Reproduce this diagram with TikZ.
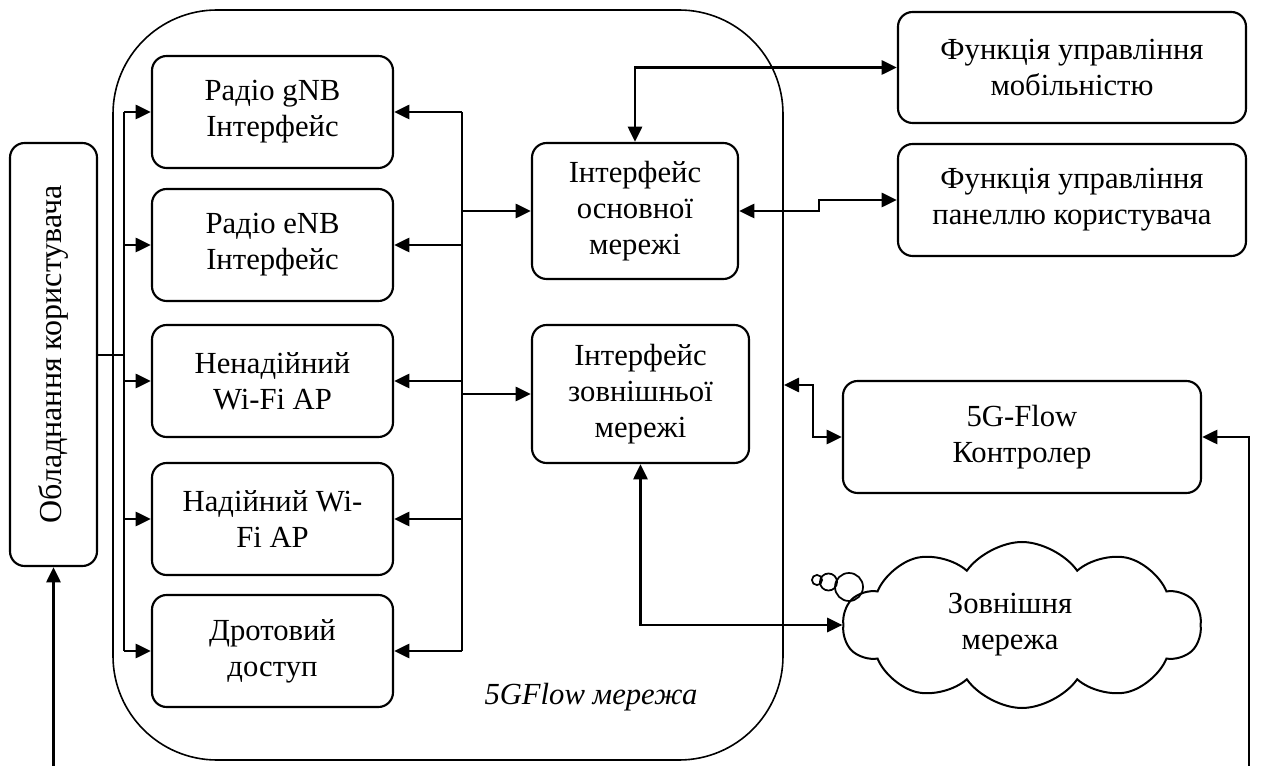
\documentclass[tikz,border=0pt]{standalone}
\usepackage{fontspec}
\setmainfont{Liberation Serif}
\usepackage{graphicx}
\usetikzlibrary{arrows.meta,shapes.symbols}
\begin{document}
\begin{tikzpicture}[x=0.75pt,y=-0.75pt,
  >={Triangle[length=11.5pt,width=10.5pt]},
  txt/.style={font=\fontsize{23}{27}\selectfont},
  box/.style={draw, line width=1.6pt, rounded corners=11pt, align=center, inner sep=2pt, txt},
  lbox/.style={box, minimum width=180.75pt, minimum height=84pt},
  conn/.style={line width=2.2pt}]
\useasboundingbox (0,0) rectangle (1265,766);
% big network area
\node[draw, line width=1.2pt, rounded corners=78pt, minimum width=502.5pt, minimum height=562.5pt] (net) at (448,385) {};
\node[font=\fontsize{23}{27}\selectfont\itshape, anchor=base] (lbl) at (591,705) {5GFlow мережа};
% user equipment
\node[box, minimum width=65.25pt, minimum height=317.25pt] (ue) at (53.5,354.5) {\rotatebox{90}{\fontsize{24}{28}\selectfont Обладнання користувача}};
% access boxes
\node[lbox] (gnb) at (272.5,112) {Радіо gNB\\Інтерфейс};
\node[lbox] (enb) at (272.5,245) {Радіо eNB\\Інтерфейс};
\node[lbox] (uwifi) at (272.5,381) {Ненадійний\\Wi-Fi AP};
\node[lbox] (twifi) at (272.5,519) {Надійний Wi-\\Fi AP};
\node[lbox] (wired) at (272.5,651) {Дротовий\\доступ};
% interfaces
\node[box, minimum width=154.5pt, minimum height=102pt] (core) at (635,211) {Інтерфейс\\основної\\мережі};
\node[box, minimum width=162.75pt, minimum height=103.5pt] (ext) at (640.5,394) {Інтерфейс\\зовнішньої\\мережі};
% functions
\node[box, minimum width=261pt, minimum height=83.25pt] (mob) at (1072,67.5) {Функція управління\\мобільністю};
\node[box, minimum width=261pt, minimum height=84pt] (up) at (1072,200) {Функція управління\\панеллю користувача};
\node[box, minimum width=268.5pt, minimum height=84pt] (ctrl) at (1022,437) {5G-Flow\\Контролер};
% cloud
\node[draw, cloud, cloud puffs=10, cloud puff arc=110, aspect=2.2, line width=1.5pt, minimum width=268.5pt, minimum height=124.5pt, txt, align=center] (cloud) at (1022,625) {Зовнішня\hspace*{18pt}\\мережа\hspace*{18pt}};
\draw[line width=1.3pt] (849,587) circle[radius=10.5pt];
\draw[line width=1.3pt] (828.5,582) circle[radius=6.4pt];
\draw[line width=1.3pt] (817,580) circle[radius=3.8pt];
% coordinates
\coordinate (lbus) at (124,355);
\coordinate (rbus) at (462,212);
\coordinate (kup) at (819,200);
\coordinate (kc) at (813,385);
\coordinate (kr) at (1249,766);
% left bus
\draw[conn] (ue.east |- lbus) -- (lbus);
\draw[conn] (lbus |- gnb.west) -- (lbus |- wired.west);
\foreach \n in {gnb,enb,uwifi,twifi,wired}
  \draw[conn,->] (lbus |- \n.west) -- (\n.west);
% right bus
\draw[conn] (rbus |- gnb.east) -- (rbus |- wired.east);
\foreach \n in {gnb,enb,uwifi,twifi,wired}
  \draw[conn,->] (rbus |- \n.east) -- (\n.east);
\draw[conn,->] (rbus |- core.west) -- (core.west);
\draw[conn,->] (rbus |- ext.west) -- (ext.west);
% core connections
\draw[conn,<->] (core.north) |- (mob.west);
\draw[conn,<->] (core.east) -| (kup) -- (up.west);
% controller
\draw[conn,<->] (net.east |- kc) -- (kc) |- (ctrl.west);
\draw[conn,<-] (ctrl.east) -| (kr);
% external
\draw[conn,<->] (ext.south) |- (cloud.west);
% UE bottom
\draw[conn,<-] (ue.south) -- (ue.south |- kr);
\end{tikzpicture}
\end{document}
